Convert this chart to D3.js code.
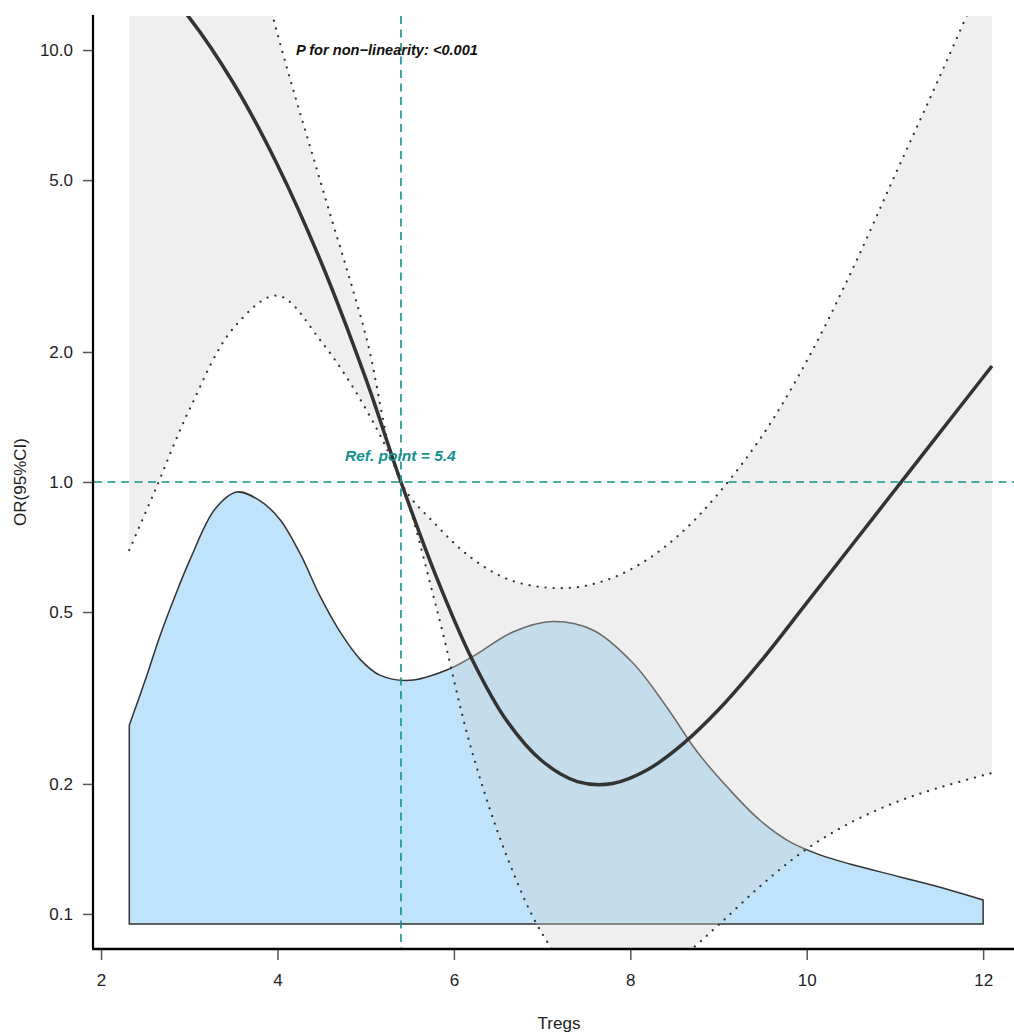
<!DOCTYPE html>
<html>
<head>
<meta charset="utf-8">
<script src="https://cdn.jsdelivr.net/npm/d3@7"></script>
<style>
  body { margin: 0; background: #fff; }
  svg { display: block; font-family: "Liberation Sans", Arial, sans-serif; }
</style>
</head>
<body>
<svg id="plot" width="1014" height="1032"></svg>
<script>
// restricted cubic spline fit: OR with 95% CI
const xs = [2.32, 2.6, 3.0, 3.5, 4.0, 4.5, 5.0, 5.4, 5.8, 6.2, 6.6, 7.0, 7.4, 7.8, 8.2, 8.6, 9.0, 9.5, 10.0, 10.5, 11.0, 11.5, 12.1]
const orVals = [16.55, 14.7, 11.89, 8.39, 5.42, 3.21, 1.737, 1.0, 0.604, 0.391, 0.280, 0.226, 0.2025, 0.2005, 0.216, 0.248, 0.297, 0.389, 0.525, 0.709, 0.958, 1.294, 1.856]
const upperVals = [260, 150, 70, 28, 10.9, 4.86, 2.19, 1.0, 0.795, 0.667, 0.597, 0.571, 0.571, 0.600, 0.663, 0.770, 0.941, 1.284, 1.905, 3.05, 5.13, 8.61, 16.3]
const lowerVals = [0.696, 0.943, 1.468, 2.27, 2.70, 2.11, 1.478, 1.0, 0.514, 0.240, 0.136, 0.0901, 0.071, 0.0675, 0.0711, 0.080, 0.0943, 0.1173, 0.1414, 0.1628, 0.181, 0.196, 0.212]

// density of Tregs
const densX = [2.32, 2.50, 2.67, 2.84, 3.01, 3.29, 3.54, 3.80, 4.03, 4.26, 4.48, 4.71, 4.94, 5.16, 5.50, 5.92, 6.22, 6.67, 7.12, 7.58, 8.03, 8.42, 8.76, 9.13, 9.47, 9.81, 10.15, 10.49, 11.06, 11.62, 12.0]
const densVals = [0.115, 0.141, 0.167, 0.190, 0.211, 0.240, 0.250, 0.245, 0.234, 0.214, 0.190, 0.169, 0.153, 0.144, 0.141, 0.147, 0.155, 0.169, 0.175, 0.170, 0.151, 0.125, 0.0995, 0.0775, 0.060, 0.0475, 0.040, 0.0347, 0.0272, 0.0197, 0.0139]

const xTicks = [2, 4, 6, 8, 10, 12]
const yTicks = [0.1, 0.2, 0.5, 1.0, 2.0, 5.0, 10.0]
const refPoint = 5.4
const pText = 'P for non\u2212linearity: <0.001'
const refText = 'Ref. point = 5.4'

const svg = d3.select('#plot')
const pLeft = 94, pRight = 1014, pTop = 16, pBottom = 948

let x = d3.scaleLinear().domain([1.92, 12.35]).range([pLeft, pRight])
let y = d3.scaleLog().domain([0.0834, 11.99]).range([pBottom, pTop])
// density drawn on its own linear scale, sitting under the OR curve
let dens = d3.scaleLinear().domain([0, 0.25]).range([y(0.0948), y(0.948)])
const smooth = d3.curveCatmullRom.alpha(0.5)

svg.append('defs').append('clipPath').attr('id', 'clip')
  .append('rect').attr('x', pLeft).attr('y', pTop).attr('width', pRight - pLeft).attr('height', pBottom - pTop)

let g = svg.append('g').attr('clip-path', 'url(#clip)')

let densData = densX.map((d, i) => ({x: d, v: densVals[i]}))
g.append('path').datum(densData)
  .attr('d', d3.area().x(d => x(d.x)).y0(dens(0)).y1(d => dens(d.v)).curve(smooth))
  .attr('fill', '#bee3fa').attr('stroke', '#333').attr('stroke-width', 1.5)

let fit = xs.map((d, i) => ({x: d, or: orVals[i], lo: lowerVals[i], hi: upperVals[i]}))

g.append('path').datum(fit)
  .attr('d', d3.area().x(d => x(d.x)).y0(d => y(d.lo)).y1(d => y(d.hi)).curve(smooth))
  .attr('fill', 'rgb(209,209,209)').attr('fill-opacity', 0.35)

const lineOf = key => d3.line().x(d => x(d.x)).y(d => y(d[key])).curve(smooth)
;['lo', 'hi'].forEach(k => {
  g.append('path').datum(fit).attr('d', lineOf(k))
    .attr('fill', 'none').attr('stroke', '#333').attr('stroke-width', 2.2)
    .attr('stroke-dasharray', '0.1,8').attr('stroke-linecap', 'round')
})

g.append('path').datum(fit).attr('d', lineOf('or'))
  .attr('fill', 'none').attr('stroke', '#333').attr('stroke-width', 3.5)

// reference lines
g.append('line').attr('x1', x(refPoint)).attr('x2', x(refPoint)).attr('y1', pTop).attr('y2', pBottom)
  .attr('stroke', '#13908f').attr('stroke-width', 1.6).attr('stroke-dasharray', '8,5.5')
g.append('line').attr('x1', pLeft).attr('x2', pRight).attr('y1', y(1)).attr('y2', y(1))
  .attr('stroke', '#13908f').attr('stroke-width', 1.6).attr('stroke-dasharray', '8,5.5')

// axes
let yAxis = svg.append('g').attr('transform', `translate(${pLeft - 1},0)`)
  .call(d3.axisLeft(y).tickValues(yTicks).tickFormat(d3.format('.1f')).tickSize(10).tickPadding(10))
let xAxis = svg.append('g').attr('transform', `translate(0,${pBottom + 1})`)
  .call(d3.axisBottom(x).tickValues(xTicks).tickFormat(d3.format('d')).tickSize(11).tickPadding(14))
;[yAxis, xAxis].forEach(a => {
  a.select('.domain').remove()
  a.selectAll('.tick line').attr('stroke', '#555').attr('stroke-width', 1.5)
  a.selectAll('.tick text').attr('fill', '#222').style('font-size', '17px')
})
svg.append('line').attr('x1', pLeft - 1).attr('x2', pLeft - 1).attr('y1', pTop - 1).attr('y2', pBottom + 1)
  .attr('stroke', '#000').attr('stroke-width', 2.2)
svg.append('line').attr('x1', pLeft - 2).attr('x2', pRight).attr('y1', pBottom + 1).attr('y2', pBottom + 1)
  .attr('stroke', '#000').attr('stroke-width', 2.4)

svg.append('text').attr('x', 559).attr('y', 1029).attr('text-anchor', 'middle')
  .style('font-size', '17px').attr('fill', '#222').text('Tregs')
svg.append('text').attr('transform', 'translate(26,482) rotate(-90)').attr('text-anchor', 'middle')
  .style('font-size', '17px').attr('fill', '#222').text('OR(95%CI)')

svg.append('text').attr('x', 296).attr('y', 55)
  .style('font-size', '14.6px').style('font-weight', 'bold').style('font-style', 'italic')
  .attr('fill', '#111').text(pText)
svg.append('text').attr('x', 345).attr('y', 461)
  .style('font-size', '15.5px').style('font-weight', 'bold').style('font-style', 'italic')
  .attr('fill', '#13908f').text(refText)
</script>
</body>
</html>
